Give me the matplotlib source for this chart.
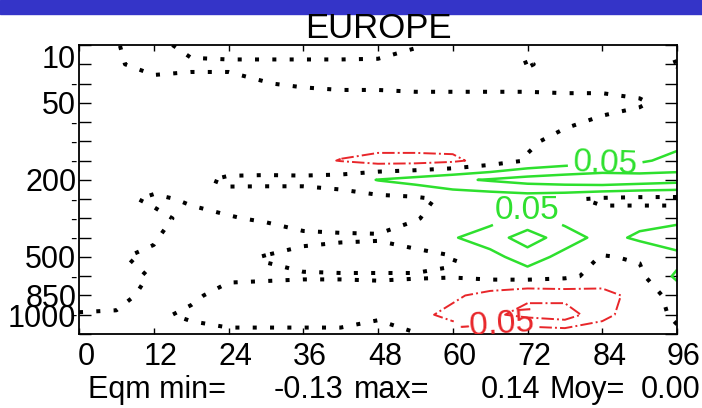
import numpy as np
import matplotlib.pyplot as plt
from matplotlib.patches import Rectangle
import matplotlib.transforms as mtransforms

plt.rcParams['font.family'] = ['Liberation Sans', 'DejaVu Sans']

# forecast range (h) and pressure levels (hPa), top of the plot first
hours = [0, 6, 12, 18, 24, 30, 36, 42, 48, 54, 60, 66, 72, 78, 84, 90, 96]
levels_hpa = [10, 20, 30, 50, 70, 100, 150, 200, 250, 300, 400, 500, 700, 850, 925, 1000]
ylabels = ['10', '', '-', '50', '-', '-', '-', '200', '-', '-', '-', '500', '-', '850', '-', '1000']
xticks = [0, 12, 24, 36, 48, 60, 72, 84, 96]

# score difference (x 0.01), one row per level
r10 = [-2, -0.2, 2, -2, -3, -3, -3, -3, -2.5, -0.2, 2, 2, 2, 2, 2, 2, 1.5]
r20 = [-2, -0.3, 1, 1, 1, 1, 1, 1, 1, 1, 1.5, 1.5, -0.3, 1.5, 1.5, 1, -0.3]
r30 = [-3, -3, -0.8, -1.5, -1.5, -0.1, 0.5, 1, 1, 1.5, 1.5, 1.5, 1.5, 1.5, 1, 1, 2]
r50 = [-3, -3, -3, -3, -3, -3, -2, -2, -2, -2, -2, -2, -2, -1.5, -1, -0.3, 1]
r70 = [-3, -3, -3, -3, -3, -3, -3, -3, -3, -2.5, -2.5, -2, -1.5, -0.5, 0.5, 1, 2]
r100 = [-3, -3, -3, -3, -3, -3, -3, -3, -2, -2, -3, -2, -0.5, 1, 2, 2, 3]
r150 = [-3, -3, -3, -3, -3, -3, -3.5, -5.2, -7, -7, -6, -3, 0.3, 2, 3, 4, 7]
r200 = [-3, -3, -2, -1, 0.8, 1, 1, 2, 5.2, 7, 9, 10.5, 12, 13, 14, 13, 12]
r250 = [-3, -1, 0.7, -0.5, -1.5, -2, -2, -2, -1.5, -1, 1, 1.5, 2, 1, -1, -1.5, -1.5]
r300 = [-3, -2, -1, 1, 0.3, -0.5, -1.5, -1.5, -1.2, -0.3, 2, 3, 7, 3, 2, 3, 3]
r400 = [-3, -2, -0.3, 2, 2, 2, 0.8, 0.5, 0.3, 2, 4.5, 8, 12, 8, 3, 6, 9]
r500 = [-3, -0.2, 0.5, 1, 1, -0.2, -1, -1.5, -1.5, -1.5, -0.3, 3, 8, 3, -0.3, 0.5, 3]
r700 = [-3, -1, 0.2, 1, 0.5, 0.5, 0.3, 0.3, 0.3, 0.3, 0.3, 1.5, 2, 1, -1.5, -1, 6]
r850 = [-2, -1, 1, 0.5, -1, -1.5, -1.5, -1.5, -1, -2, -4, -7, -9, -8, -7, -3, 2]
r925 = [0.3, 0.3, 0.5, -0.5, -1, -1, -1, -1, -0.2, -3.5, -6.5, -9, -11.5, -13, -6, -3, 1]
r1000 = [1, 1, 1, 1, 0.5, 0.5, 0.5, 0.5, 0.5, 0.3, -2, -1, -1, -1.5, -3, -2, -1]

Z = np.array([r10, r20, r30, r50, r70, r100, r150, r200, r250, r300,
              r400, r500, r700, r850, r925, r1000])
X = np.array(hours)
Y = np.arange(len(levels_hpa))

fig = plt.figure(figsize=(7.02, 4.08), dpi=100)
ax = fig.add_axes([79/702, 74/408, 598/702, 289/408])

red = '#e8262a'
green = '#2ee02e'
ax.contour(X, Y, Z, levels=[0], colors='black', linewidths=2.9,
           linestyles=[(0, (1, 3.3))])
ax.contour(X, Y, Z, levels=[-10], colors=red, linewidths=1.4, linestyles='-.')
neg = ax.contour(X, Y, Z, levels=[-5], colors=red, linewidths=1.4, linestyles='-.')
ax.contour(X, Y, Z, levels=[10], colors=green, linewidths=1.8)
pos = ax.contour(X, Y, Z, levels=[5], colors=green, linewidths=1.8)

fmt = lambda v: '%.2f' % (v / 100.)
ax.clabel(pos, fmt=fmt, fontsize=24, inline=True, manual=[(84.5, 6.4), (72, 8.6)])
ax.clabel(neg, fmt=fmt, fontsize=24, inline=True, manual=[(67, 14.7)])

ax.set_xlim(0, 96)
ax.set_ylim(15, 0)
ax.set_xticks(xticks)
ax.set_yticks(Y)
ax.set_yticklabels(ylabels)
ax.tick_params(axis='y', direction='in', length=8.5, width=1, left=True,
               right=True, labelsize=22, pad=2)
ax.tick_params(axis='x', direction='in', length=4, width=1, top=True,
               bottom=True, labelsize=22, pad=6)
for s in ax.spines.values():
    s.set_linewidth(1.3)

ytl = ax.get_yticklabels()
ytl[0].set_va('top')
ytl[-1].set_va('bottom')
# the unlabelled levels only get a short dash
for t in ytl:
    if t.get_text() == '-':
        t.set_text('\u2013')
        t.set_fontsize(14)
shift = mtransforms.ScaledTranslation(7/100., 0, fig.dpi_scale_trans)
for lbl in ax.get_xticklabels():
    lbl.set_transform(lbl.get_transform() + shift)

# blue banner at the top
fig.patches.append(Rectangle((0, 1 - 14/408), 1, 14/408, transform=fig.transFigure,
                             color='#3434c8', zorder=0))
fig.text(378/702, 1 - 28/408, 'EUROPE', ha='center', va='center', fontsize=25)

# stats line
stats = [('Eqm min=', 88), ('-0.13', 274), ('max=', 354),
         ('0.14', 481), ('Moy=', 549), ('0.00', 641)]
for txt, xp in stats:
    fig.text(xp/702, 1 - 390/408, txt, ha='left', va='center', fontsize=22)

fig.savefig('out.png', dpi=100)
